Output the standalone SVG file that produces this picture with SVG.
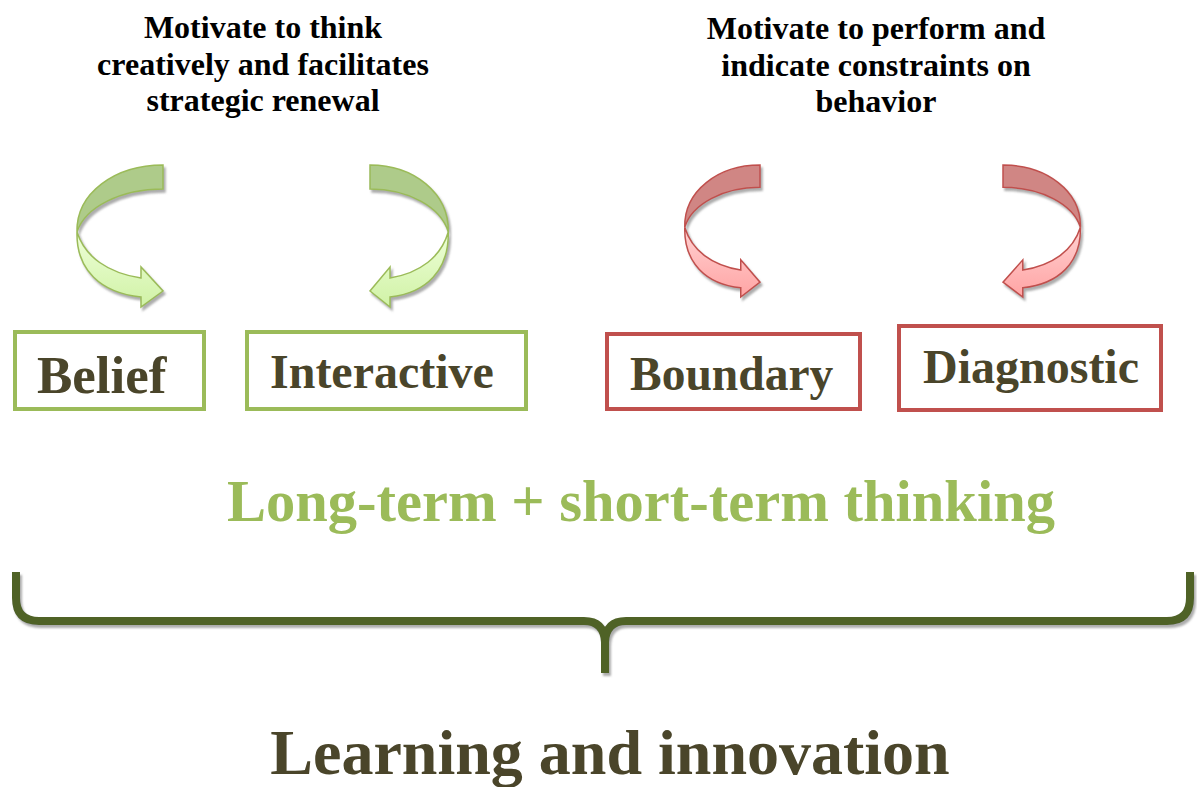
<svg xmlns="http://www.w3.org/2000/svg" width="1197" height="787" viewBox="0 0 1197 787">
  <defs>
    <style>
      text { font-family: "Liberation Serif", "Times New Roman", serif; font-weight: bold; }
      .note { font-size: 32px; fill: #000000; text-anchor: middle; }
      .label { fill: #4A452A; }
      .box-green { fill: #ffffff; stroke: #9BBB59; stroke-width: 4; }
      .box-red { fill: #ffffff; stroke: #C0504D; stroke-width: 4; }
      .g-back { fill: #AECB8A; stroke: #9BBB59; stroke-width: 1.5; }
      .g-front { fill: url(#greenFront); stroke: #9BBB59; stroke-width: 1.5; }
      .r-back { fill: #D08684; stroke: #C0504D; stroke-width: 1.5; }
      .r-front { fill: url(#redFront); stroke: #C0504D; stroke-width: 1.5; }
    </style>
    <linearGradient id="greenFront" x1="0" y1="0" x2="0" y2="1">
      <stop offset="0" stop-color="#EEFFD8"/>
      <stop offset="1" stop-color="#D0F2A6"/>
    </linearGradient>
    <linearGradient id="redFront" x1="0" y1="0" x2="0" y2="1">
      <stop offset="0" stop-color="#FFD2D2"/>
      <stop offset="1" stop-color="#FFA4A4"/>
    </linearGradient>
    <filter id="shadow" x="-20%" y="-20%" width="140%" height="140%">
      <feDropShadow dx="2" dy="3" stdDeviation="1" flood-color="#808080" flood-opacity="0.65"/>
    </filter>
    <!-- curved arrow, drawn pointing right from its top-right corner -->
    <g id="curvedArrowBack">
      <path d="M0,0 C-48,0 -87,28 -86,67 C-78,42 -42,24 0,24 Z" vector-effect="non-scaling-stroke"/>
    </g>
    <g id="curvedArrowFront">
      <path d="M-86,67 C-78,92 -55,108 -22,113 L-22,102 L0,126 L-22,142 L-22,132 C-62,128 -87,105 -86,67 Z" vector-effect="non-scaling-stroke"/>
    </g>
  </defs>

  <rect width="1197" height="787" fill="#ffffff"/>

  <!-- headings -->
  <g id="note-left">
    <text class="note" x="263" y="38">Motivate to think</text>
    <text class="note" x="263" y="75">creatively and facilitates</text>
    <text class="note" x="263" y="111">strategic renewal</text>
  </g>
  <g id="note-right">
    <text class="note" x="876" y="39">Motivate to perform and</text>
    <text class="note" x="876" y="76">indicate constraints on</text>
    <text class="note" x="876" y="112">behavior</text>
  </g>

  <!-- curved arrows -->
  <g id="arrows">
    <g id="arrow-belief" filter="url(#shadow)">
      <g transform="translate(163,165)">
        <use href="#curvedArrowBack" class="g-back"/>
        <use href="#curvedArrowFront" class="g-front"/>
      </g>
    </g>
    <g id="arrow-interactive" filter="url(#shadow)">
      <g transform="translate(370,165) scale(-0.91,1)">
        <use href="#curvedArrowBack" class="g-back"/>
        <use href="#curvedArrowFront" class="g-front"/>
      </g>
    </g>
    <g id="arrow-boundary" filter="url(#shadow)">
      <g transform="translate(760,165) scale(0.875,0.93)">
        <use href="#curvedArrowBack" class="r-back"/>
        <use href="#curvedArrowFront" class="r-front"/>
      </g>
    </g>
    <g id="arrow-diagnostic" filter="url(#shadow)">
      <g transform="translate(1003,165) scale(-0.9,0.93)">
        <use href="#curvedArrowBack" class="r-back"/>
        <use href="#curvedArrowFront" class="r-front"/>
      </g>
    </g>
  </g>

  <!-- lever boxes -->
  <g id="node-belief">
    <rect class="box-green" x="15" y="332" width="189" height="77"/>
    <text class="label" x="37" y="393" font-size="53">Belief</text>
  </g>
  <g id="node-interactive">
    <rect class="box-green" x="247" y="332" width="279" height="77"/>
    <text class="label" x="270" y="388" font-size="48">Interactive</text>
  </g>
  <g id="node-boundary">
    <rect class="box-red" x="607" y="334" width="253" height="75"/>
    <text class="label" x="630" y="390" font-size="47.5">Boundary</text>
  </g>
  <g id="node-diagnostic">
    <rect class="box-red" x="899" y="326" width="262" height="84"/>
    <text class="label" x="923" y="383" font-size="48">Diagnostic</text>
  </g>

  <text x="641" y="521" font-size="58.5" fill="#9BBB59" text-anchor="middle">Long-term + short-term thinking</text>

  <!-- brace -->
  <g id="brace" filter="url(#shadow)">
    <path d="M16,572 L16,598 Q16,621 39,621 L584,621 Q604,621 605,642 L605,673 M605,642 Q606,621 626,621 L1167,621 Q1190,621 1190,598 L1190,572" fill="none" stroke="#4F6228" stroke-width="8" stroke-linejoin="round"/>
  </g>

  <text class="label" x="610" y="774" font-size="64" text-anchor="middle">Learning and innovation</text>
</svg>
